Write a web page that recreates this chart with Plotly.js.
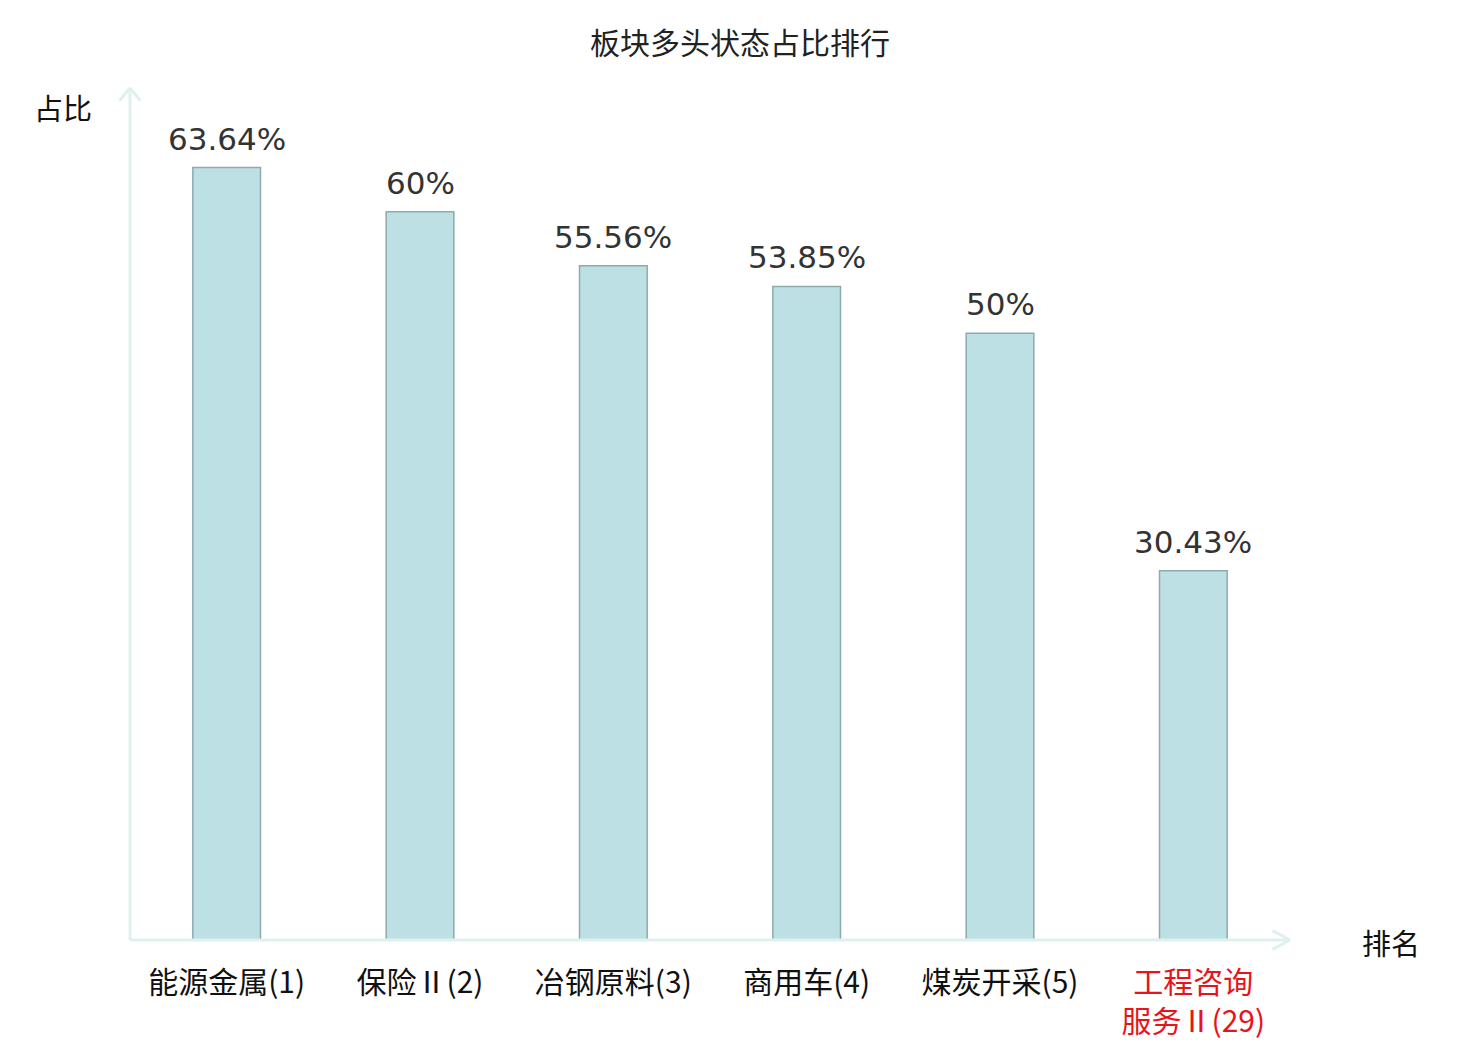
<!DOCTYPE html>
<html>
<head>
<meta charset="utf-8">
<script src="https://cdn.plot.ly/plotly-3.0.1.min.js"></script>
<style>body{margin:0;background:#fff}#myDiv{width:1480px;height:1040px}</style>
</head>
<body>
<div id="myDiv"></div>
<script>
var sectors = ['能源金属(1)', '保险Ⅱ(2)', '冶钢原料(3)', '商用车(4)', '煤炭开采(5)', '工程咨询<br>服务Ⅱ(29)'];
var ratios = [63.64, 60, 55.56, 53.85, 50, 30.43];
var ratioText = ['63.64%', '60%', '55.56%', '53.85%', '50%', '30.43%'];

var font = 'DejaVu Sans, Noto Sans CJK SC, sans-serif';
var cjkFont = 'Noto Sans CJK SC, DejaVu Sans, sans-serif';
var axisColor = '#dff1ef';

// last category is drawn in red
var tickText = sectors.map(function (s, i) {
  return i == sectors.length - 1 ? '<span style="color:#e8141b">' + s + '</span>' : s;
});

var trace = {
  x: sectors,
  y: ratios,
  type: 'bar',
  width: 0.35,
  marker: {color: '#bce0e3', line: {color: '#8eabab', width: 1.5}},
  hoverinfo: 'none'
};

// value labels above each bar
var labels = sectors.map(function (s, i) {
  return {x: s, y: ratios[i], text: ratioText[i], xref: 'x', yref: 'y', showarrow: false,
    xanchor: 'center', yanchor: 'bottom', yshift: 9,
    font: {family: font, size: 31, color: '#333333'}};
});

var layout = {
  width: 1480,
  height: 1040,
  margin: {l: 130, r: 190, t: 88, b: 100},
  paper_bgcolor: '#fff',
  plot_bgcolor: '#fff',
  showlegend: false,
  title: {text: '板块多头状态占比排行', x: 0.5, xanchor: 'center', y: 0.958, yanchor: 'middle',
    font: {family: cjkFont, size: 30, color: '#222'}},
  xaxis: {
    type: 'category',
    range: [-0.5, 5.5],
    tickvals: sectors,
    ticktext: tickText,
    ticks: '',
    showgrid: false,
    zeroline: false,
    showline: false,
    ticklabelstandoff: 22,
    tickfont: {family: cjkFont, size: 30, color: '#111'}
  },
  yaxis: {
    range: [0, 70.2],
    showticklabels: false,
    showgrid: false,
    zeroline: false,
    showline: false,
    ticks: ''
  },
  shapes: [
    // y axis with arrow
    {type: 'line', xref: 'paper', yref: 'paper', x0: 0, x1: 0, y0: 0, y1: 1, line: {color: axisColor, width: 3}},
    {type: 'line', xref: 'paper', yref: 'paper', x0: 0, x1: -0.009, y0: 1, y1: 0.985, line: {color: axisColor, width: 3}},
    {type: 'line', xref: 'paper', yref: 'paper', x0: 0, x1: 0.009, y0: 1, y1: 0.985, line: {color: axisColor, width: 3}},
    // x axis with arrow
    {type: 'line', xref: 'paper', yref: 'paper', x0: 0, x1: 1, y0: 0, y1: 0, line: {color: axisColor, width: 3}},
    {type: 'line', xref: 'paper', yref: 'paper', x0: 1, x1: 0.985, y0: 0, y1: 0.011, line: {color: axisColor, width: 3}},
    {type: 'line', xref: 'paper', yref: 'paper', x0: 1, x1: 0.985, y0: 0, y1: -0.011, line: {color: axisColor, width: 3}}
  ],
  annotations: labels.concat([
    {text: '占比', xref: 'paper', yref: 'paper', x: -0.058, y: 0.978, xanchor: 'center', yanchor: 'middle',
      showarrow: false, font: {family: cjkFont, size: 29, color: '#111'}},
    {text: '排名', xref: 'paper', yref: 'paper', x: 1.087, y: -0.002, xanchor: 'center', yanchor: 'middle',
      showarrow: false, font: {family: cjkFont, size: 29, color: '#111'}}
  ])
};

Plotly.newPlot('myDiv', [trace], layout, {displayModeBar: false, staticPlot: true});
</script>
</body>
</html>
